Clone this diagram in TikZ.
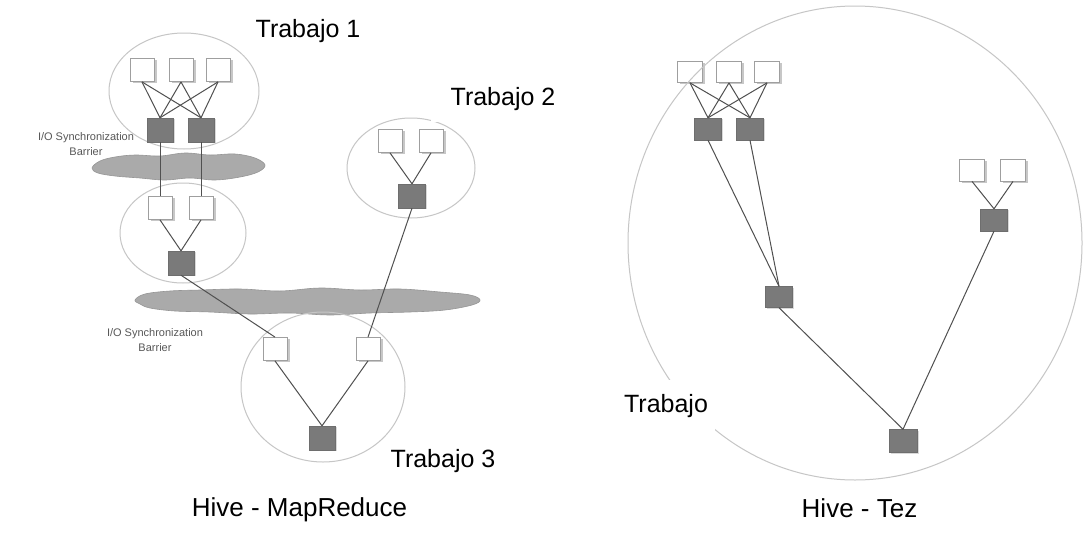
\documentclass[tikz,border=0pt]{standalone}
\usepackage{fontspec}
\setmainfont{Liberation Sans}
\usetikzlibrary{shadows}
\definecolor{ringgray}{HTML}{C6C6C6}
\definecolor{edgegray}{HTML}{505050}
\definecolor{taskdark}{HTML}{7A7A7A}
\definecolor{cloudfill}{HTML}{AAAAAA}
\definecolor{cloudline}{HTML}{959595}
\definecolor{notegray}{HTML}{585858}
\tikzset{
  inbox/.style={draw=gray!75, line width=0.8pt, fill=white, minimum width=24pt,
    minimum height=23pt, inner sep=0pt,
    drop shadow={shadow xshift=2.5pt, shadow yshift=-1.5pt, fill=black, opacity=.22}},
  outbox/.style={draw=taskdark!90!black, line width=0.4pt, fill=taskdark,
    minimum width=26pt, minimum height=24pt, inner sep=0pt,
    drop shadow={shadow xshift=1.5pt, shadow yshift=-1pt, fill=black, opacity=.15}},
  ring/.style={draw=ringgray, line width=1pt},
  flow/.style={draw=edgegray, line width=1pt},
  barrier/.style={fill=cloudfill, draw=cloudline, line width=0.6pt},
  joblabel/.style={fill=white, inner xsep=6pt, inner ysep=12pt,
    font=\fontsize{25}{30}\selectfont, anchor=base},
  viewtitle/.style={font=\fontsize{26}{31}\selectfont, anchor=base},
  note/.style={font=\fontsize{11}{15}\selectfont, text=notegray, align=center},
}
\begin{document}
\begin{tikzpicture}[x=1pt, y=-1pt]
\useasboundingbox (0,0) rectangle (1084,533);
\fill[white] (0,0) rectangle (1084,533);

% synchronization barriers
\draw[barrier] plot[smooth cycle, tension=0.6] coordinates {
  (92,168) (100,161) (115,157) (135,155) (160,156) (185,153) (210,155)
  (235,154) (255,158) (265,165) (258,172) (240,177) (215,180) (190,178)
  (165,180) (140,178) (115,176) (98,173)};
\draw[barrier] plot[smooth cycle, tension=0.6] coordinates {
  (135,300) (145,294) (170,291) (200,290) (240,289) (280,291) (320,288)
  (360,290) (400,289) (440,292) (470,295) (480,300) (472,305) (445,310)
  (410,312) (370,313) (330,315) (290,313) (250,314) (210,312) (175,311)
  (150,308) (140,304)};

% job boundaries, MapReduce side
\draw[ring] (184,91) ellipse [x radius=75pt, y radius=58pt];
\draw[ring] (183,233) ellipse [x radius=63pt, y radius=50pt];
\draw[ring] (411,168) ellipse [x radius=64pt, y radius=50pt];
\draw[ring] (323,387) ellipse [x radius=82pt, y radius=75pt];

% MapReduce tasks
\node[inbox] (a1) at (142,70) {};
\node[inbox] (a2) at (181,70) {};
\node[inbox] (a3) at (218,70) {};
\node[outbox] (a4) at (160,130) {};
\node[outbox] (a5) at (201,130) {};
\node[inbox] (b1) at (160,208) {};
\node[inbox] (b2) at (201,208) {};
\node[outbox] (b3) at (181,263) {};
\node[inbox] (c1) at (390,141) {};
\node[inbox] (c2) at (431,141) {};
\node[outbox, minimum width=27pt] (c3) at (412,196) {};
\node[inbox] (e1) at (275,349) {};
\node[inbox] (e2) at (368,349) {};
\node[outbox] (e3) at (322,438) {};

% Tez tasks
\node[inbox, minimum width=25pt, minimum height=21pt] (r1) at (690,72) {};
\node[inbox, minimum width=25pt, minimum height=21pt] (r2) at (729,72) {};
\node[inbox, minimum width=25pt, minimum height=21pt] (r3) at (767,72) {};
\node[outbox, minimum width=27pt, minimum height=22pt] (r4) at (708,129) {};
\node[outbox, minimum width=27pt, minimum height=22pt] (r5) at (750,129) {};
\node[outbox, minimum width=27pt, minimum height=21pt] (r6) at (779,297) {};
\node[inbox, minimum width=25pt, minimum height=22pt] (r7) at (972,170) {};
\node[inbox, minimum width=25pt, minimum height=22pt] (r8) at (1013,170) {};
\node[outbox, minimum width=27pt, minimum height=22pt] (r9) at (994,220) {};
\node[outbox, minimum width=28pt, minimum height=23pt] (r10) at (903,441) {};

% MapReduce data flow
\foreach \s in {a1,a2,a3}{
  \draw[flow] (\s.south) -- (a4.north);
  \draw[flow] (\s.south) -- (a5.north);
}
\draw[flow] (a4.south) -- (b1.north);
\draw[flow] (a5.south) -- (b2.north);
\draw[flow] (b1.south) -- (b3.north);
\draw[flow] (b2.south) -- (b3.north);
\draw[flow] (c1.south) -- (c3.north);
\draw[flow] (c2.south) -- (c3.north);
\draw[flow] (b3.south) -- (e1.north);
\draw[flow] (c3.south) -- (e2.north);
\draw[flow] (e1.south) -- (e3.north);
\draw[flow] (e2.south) -- (e3.north);

% Tez data flow
\foreach \s in {r1,r2,r3}{
  \draw[flow] (\s.south) -- (r4.north);
  \draw[flow] (\s.south) -- (r5.north);
}
\draw[flow] (r4.south) -- (r6.north);
\draw[flow] (r5.south) -- (r6.north);
\draw[flow] (r7.south) -- (r9.north);
\draw[flow] (r8.south) -- (r9.north);
\draw[flow] (r6.south) -- (r10.north);
\draw[flow] (r9.south) -- (r10.north);

% single Tez job boundary
\draw[ring] (855,243) ellipse [x radius=227pt, y radius=237pt];

% labels
\node[joblabel] (j1) at (308,37) {Trabajo 1};
\node[joblabel, inner xsep=20pt] (j2) at (503,105) {Trabajo 2};
\node[joblabel, inner xsep=4pt] (j3) at (443,467) {Trabajo 3};
\node[joblabel, inner xsep=7pt, inner ysep=14pt] (j4) at (666,412) {Trabajo};
\node[viewtitle] (t1) at (299.5,516) {Hive - MapReduce};
\node[viewtitle] (t2) at (859.5,517) {Hive - Tez};
\node[note] (n1) at (86,144) {I/O Synchronization\\Barrier};
\node[note] (n2) at (155,340) {I/O Synchronization\\Barrier};
\end{tikzpicture}
\end{document}
